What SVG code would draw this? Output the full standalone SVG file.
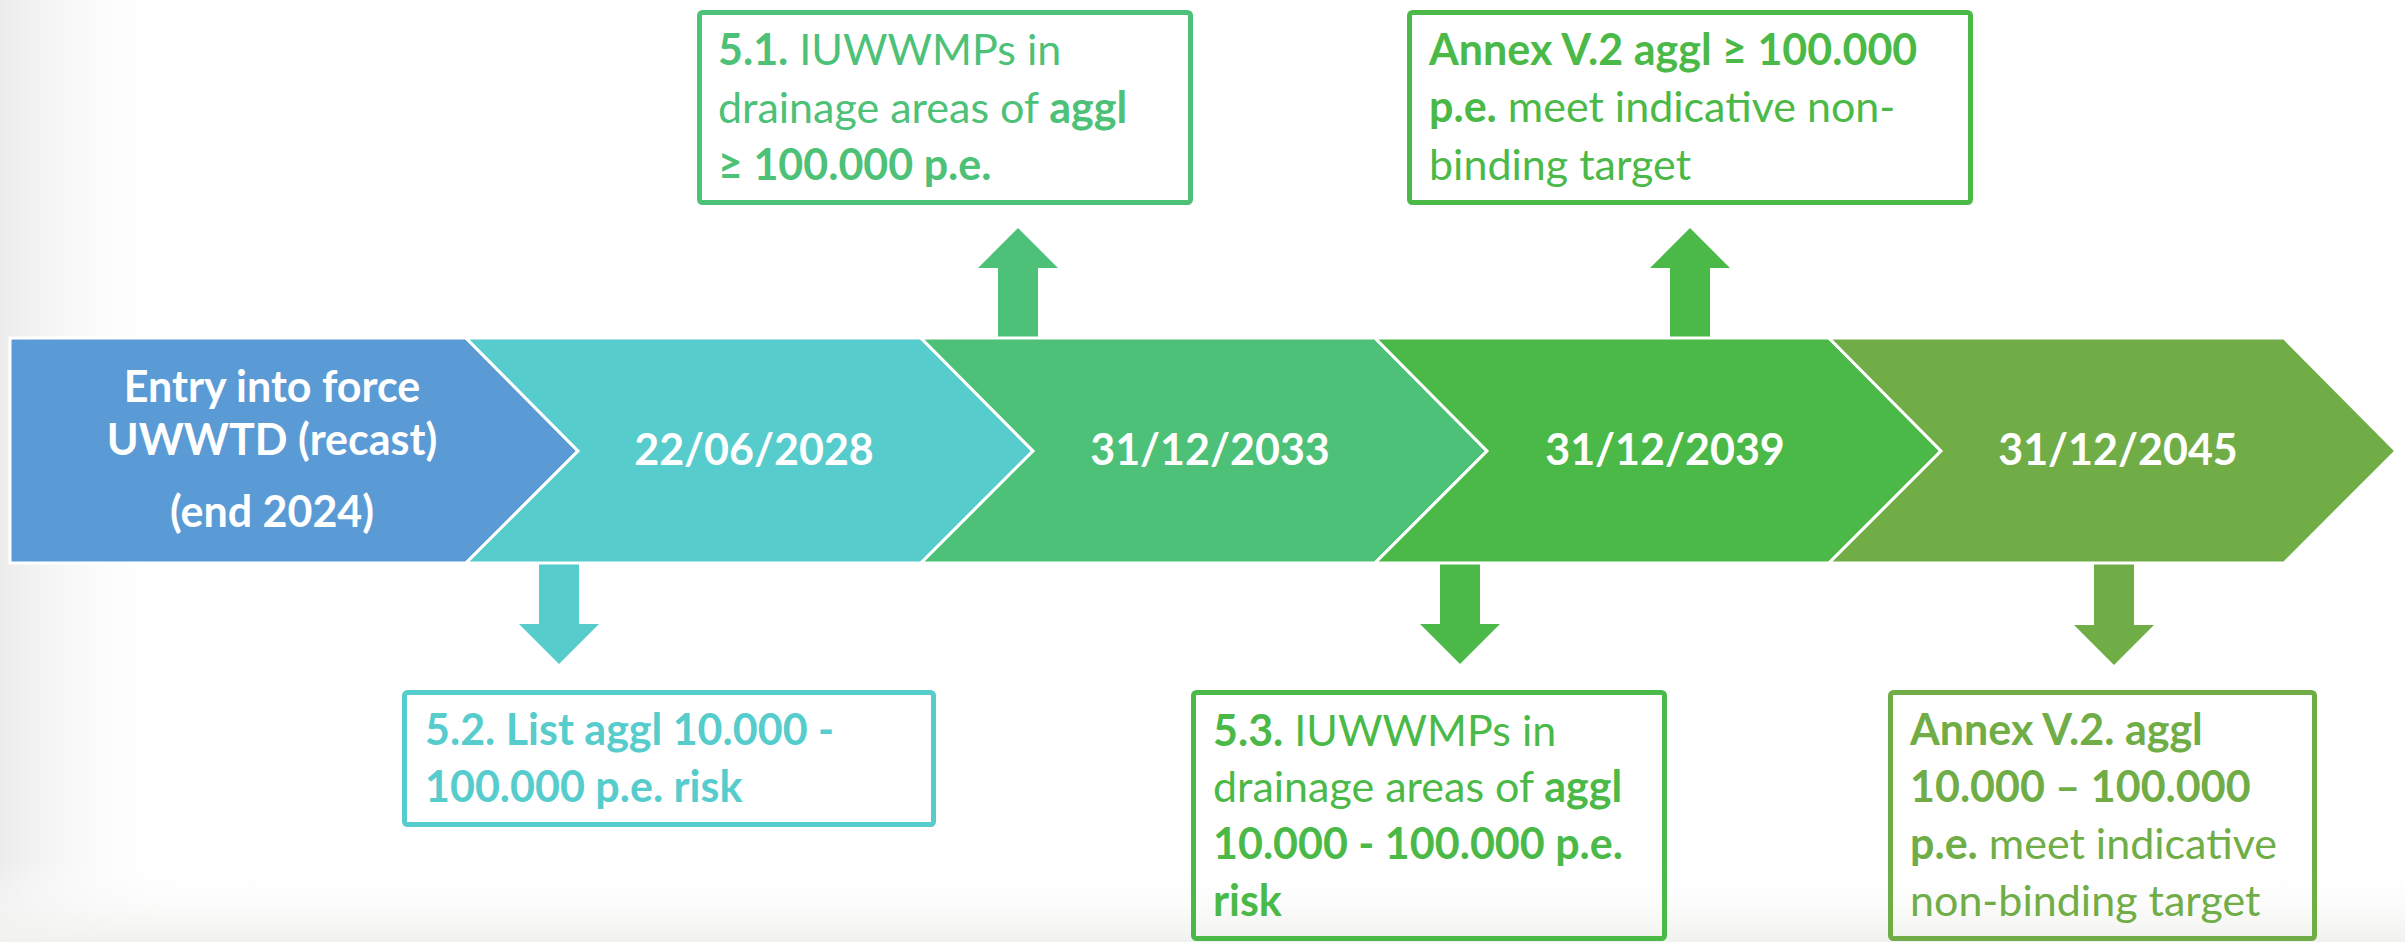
<svg xmlns="http://www.w3.org/2000/svg" width="2405" height="942" viewBox="0 0 2405 942">
<defs>
<linearGradient id="bgL" x1="0" y1="0" x2="1" y2="0">
<stop offset="0" stop-color="#ececec"/>
<stop offset="1" stop-color="#ffffff" stop-opacity="0"/>
</linearGradient>
<linearGradient id="bgB" x1="0" y1="0" x2="0" y2="1">
<stop offset="0" stop-color="#ffffff" stop-opacity="0"/>
<stop offset="1" stop-color="#f1f2ef"/>
</linearGradient>
<style>
.chev{stroke:#ffffff;stroke-width:3;stroke-linejoin:miter}
.ct{font-family:Lato,"Liberation Sans",sans-serif;font-weight:bold;font-size:43px;fill:#ffffff;text-anchor:middle}
.bx{fill:none;stroke-width:5}
.bt{font-family:Lato,"Liberation Sans",sans-serif;font-size:43px}
.b{font-weight:bold}
</style>
</defs>
<rect x="0" y="0" width="2405" height="942" fill="#ffffff"/>
<rect x="0" y="0" width="180" height="942" fill="url(#bgL)"/>
<rect x="0" y="860" width="2405" height="82" fill="url(#bgB)"/>

<g id="connectors">
<polygon fill="#4cc177" points="998,338 998,268 978,268 1018,228 1058,268 1038,268 1038,338"/>
<polygon fill="#4bb948" points="1670,338 1670,268 1650,268 1690,228 1730,268 1710,268 1710,338"/>
<polygon fill="#56cccd" points="539,560 539,624 519,624 559,664 599,624 579,624 579,560"/>
<polygon fill="#4bb948" points="1440,560 1440,624 1420,624 1460,664 1500,624 1480,624 1480,560"/>
<polygon fill="#70ad47" points="2094,560 2094,625 2074,625 2114,665 2154,625 2134,625 2134,560"/>
</g>

<g id="stage-entry">
<polygon class="chev" fill="#5b9bd5" points="10,338 466,338 578,451 466,563 10,563"/>
<text class="ct" x="272" y="402">Entry into force</text>
<text class="ct" x="272" y="455">UWWTD (recast)</text>
<text class="ct" x="272" y="527">(end 2024)</text>
</g>
<g id="stage-2028">
<polygon class="chev" fill="#56cccd" points="466,338 921,338 1033,451 921,563 466,563 578,451"/>
<text class="ct" x="754" y="465">22/06/2028</text>
</g>
<g id="stage-2033">
<polygon class="chev" fill="#4cc177" points="921,338 1375,338 1487,451 1375,563 921,563 1033,451"/>
<text class="ct" x="1210" y="465">31/12/2033</text>
</g>
<g id="stage-2039">
<polygon class="chev" fill="#4bb948" points="1375,338 1829,338 1941,451 1829,563 1375,563 1487,451"/>
<text class="ct" x="1665" y="465">31/12/2039</text>
</g>
<g id="stage-2045">
<polygon class="chev" fill="#70ad47" points="1829,338 2284,338 2396,451 2284,563 1829,563 1941,451"/>
<text class="ct" x="2118" y="465">31/12/2045</text>
</g>

<g id="box-5-1">
<rect class="bx" stroke="#4cc177" x="699.5" y="12.5" width="491" height="190" rx="3"/>
<text class="bt" fill="#4cc177" x="718" y="65"><tspan class="b">5.1.</tspan> IUWWMPs in</text>
<text class="bt" fill="#4cc177" x="718" y="123">drainage areas of <tspan class="b">aggl</tspan></text>
<text class="bt b" fill="#4cc177" x="718" y="180">≥ 100.000 p.e.</text>
</g>
<g id="box-annex-100000">
<rect class="bx" stroke="#4bb948" x="1409.5" y="12.5" width="561" height="190" rx="3"/>
<text class="bt" fill="#4bb948" x="1429" y="65"><tspan class="b">Annex V.2 aggl ≥ 100.000</tspan></text>
<text class="bt" fill="#4bb948" x="1429" y="122"><tspan class="b">p.e.</tspan> meet indicative non-</text>
<text class="bt" fill="#4bb948" x="1429" y="180">binding target</text>
</g>
<g id="box-5-2">
<rect class="bx" stroke="#56cccd" x="404.5" y="692.5" width="529" height="132" rx="3"/>
<text class="bt b" fill="#56cccd" x="425" y="745">5.2. List aggl 10.000 -</text>
<text class="bt b" fill="#56cccd" x="425" y="802">100.000 p.e. risk</text>
</g>
<g id="box-5-3">
<rect class="bx" stroke="#4bb948" x="1193.5" y="692.5" width="471" height="246" rx="3"/>
<text class="bt" fill="#4bb948" x="1213" y="746"><tspan class="b">5.3.</tspan> IUWWMPs in</text>
<text class="bt" fill="#4bb948" x="1213" y="802">drainage areas of <tspan class="b">aggl</tspan></text>
<text class="bt b" fill="#4bb948" x="1213" y="859">10.000 - 100.000 p.e.</text>
<text class="bt b" fill="#4bb948" x="1213" y="916">risk</text>
</g>
<g id="box-annex-10000">
<rect class="bx" stroke="#70ad47" x="1890.5" y="692.5" width="424" height="246" rx="3"/>
<text class="bt b" fill="#70ad47" x="1910" y="745">Annex V.2. aggl</text>
<text class="bt b" fill="#70ad47" x="1910" y="802">10.000 – 100.000</text>
<text class="bt" fill="#70ad47" x="1910" y="859"><tspan class="b">p.e.</tspan> meet indicative</text>
<text class="bt" fill="#70ad47" x="1910" y="916">non-binding target</text>
</g>
</svg>
